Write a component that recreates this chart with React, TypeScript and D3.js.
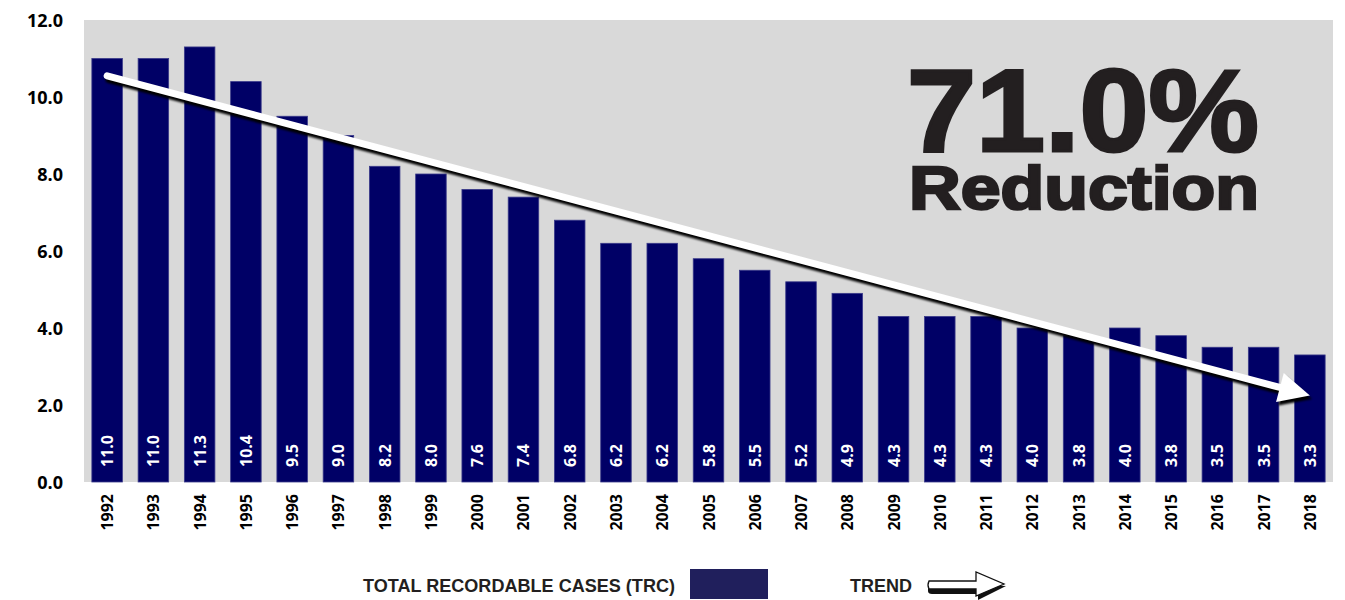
import { useEffect, useRef } from "react";
import * as d3 from "d3";

// chart data
const years = [
  "1992", "1993", "1994", "1995", "1996", "1997", "1998", "1999", "2000",
  "2001", "2002", "2003", "2004", "2005", "2006", "2007", "2008", "2009",
  "2010", "2011", "2012", "2013", "2014", "2015", "2016", "2017", "2018",
];
const trcValues = [
  11.0, 11.0, 11.3, 10.4, 9.5, 9.0, 8.2, 8.0, 7.6, 7.4, 6.8, 6.2, 6.2, 5.8,
  5.5, 5.2, 4.9, 4.3, 4.3, 4.3, 4.0, 3.8, 4.0, 3.8, 3.5, 3.5, 3.3,
];
const yTicks = [0, 2, 4, 6, 8, 10, 12];
// trend arrow: start / end (year, value)
const trendStart = { year: "1992", value: 10.55 };
const trendEnd = { year: "2018", value: 2.25 };
const headline = "71.0%";
const subline = "Reduction";
const legendBarLabel = "TOTAL RECORDABLE CASES (TRC)";
const legendTrendLabel = "TREND";

function App() {
  const svgRef = useRef<SVGSVGElement>(null);

  useEffect(() => {
    if (!svgRef.current) return;
    const svg = d3.select(svgRef.current);
    svg.selectAll("*").remove();

    const left = 84;
    const right = 1333;
    const top = 20;
    const bottom = 482;

    const x = d3
      .scaleBand()
      .domain(years)
      .range([left, right])
      .paddingInner(0.34)
      .paddingOuter(0.17);
    const y = d3.scaleLinear().domain([0, 12]).range([bottom, top]);

    const defs = svg.append("defs");
    const f = defs
      .append("filter")
      .attr("id", "shadow")
      .attr("x", "-10%")
      .attr("y", "-10%")
      .attr("width", "120%")
      .attr("height", "140%");
    f.append("feGaussianBlur").attr("stdDeviation", 1.3);

    // plot background
    svg
      .append("rect")
      .attr("x", left)
      .attr("y", top)
      .attr("width", right - left)
      .attr("height", bottom - top)
      .style("fill", "#d9d9d9");

    // bars
    svg
      .selectAll(".bar")
      .data(trcValues)
      .enter()
      .append("rect")
      .attr("class", "bar")
      .attr("x", (_, i) => x(years[i])!)
      .attr("y", (d) => y(d))
      .attr("width", x.bandwidth())
      .attr("height", (d) => bottom - y(d))
      .style("fill", "#000066")
      .style("stroke", "#3a3a8a")
      .style("stroke-width", 0.8);

    // value labels inside bars
    svg
      .selectAll(".val")
      .data(trcValues)
      .enter()
      .append("text")
      .attr("class", "val")
      .attr(
        "transform",
        (_, i) => `translate(${x(years[i])! + x.bandwidth() / 2 + 6}, 467) rotate(-90)`
      )
      .style("font-family", "'Open Sans', sans-serif")
      .style("font-weight", "700")
      .style("font-size", "16px")
      .style("fill", "#ffffff")
      .text((d) => d.toFixed(1));

    // y axis labels
    svg
      .selectAll(".ytick")
      .data(yTicks)
      .enter()
      .append("text")
      .attr("class", "ytick")
      .attr("x", 63)
      .attr("y", (d) => y(d) + 6.5)
      .attr("text-anchor", "end")
      .style("font-family", "'Open Sans', sans-serif")
      .style("font-weight", "700")
      .style("font-size", "18px")
      .style("fill", "#000")
      .text((d) => d.toFixed(1));

    // x axis labels
    svg
      .selectAll(".xtick")
      .data(years)
      .enter()
      .append("text")
      .attr("class", "xtick")
      .attr(
        "transform",
        (d) => `translate(${x(d)! + x.bandwidth() / 2 + 6}, 494) rotate(-90)`
      )
      .attr("text-anchor", "end")
      .style("font-family", "'Open Sans', sans-serif")
      .style("font-weight", "700")
      .style("font-size", "16px")
      .style("fill", "#000")
      .text((d) => d);

    // trend arrow
    const x1 = x(trendStart.year)! + x.bandwidth() / 2;
    const y1 = y(trendStart.value);
    const x2 = x(trendEnd.year)! + x.bandwidth() / 2;
    const y2 = y(trendEnd.value);
    const ang = Math.atan2(y2 - y1, x2 - x1);
    const headLen = 31;
    const headHalf = 15;
    const bx = x2 - headLen * Math.cos(ang);
    const by = y2 - headLen * Math.sin(ang);
    const nx = -Math.sin(ang);
    const ny = Math.cos(ang);
    const headPts: [number, number][] = [
      [x2, y2],
      [bx + nx * headHalf, by + ny * headHalf],
      [bx - nx * headHalf, by - ny * headHalf],
    ];
    const shaftEndX = bx + 4 * Math.cos(ang);
    const shaftEndY = by + 4 * Math.sin(ang);

    const arrow = svg.append("g");
    const shadow = arrow
      .append("g")
      .attr("transform", "translate(2,3.5)")
      .attr("filter", "url(#shadow)");
    shadow
      .append("line")
      .attr("x1", x1)
      .attr("y1", y1)
      .attr("x2", shaftEndX)
      .attr("y2", shaftEndY)
      .style("stroke", "#000")
      .style("stroke-width", 7.5)
      .style("stroke-linecap", "round");
    shadow
      .append("polygon")
      .attr("points", headPts.map((p) => p.join(",")).join(" "))
      .style("fill", "#000");

    arrow
      .append("line")
      .attr("x1", x1)
      .attr("y1", y1)
      .attr("x2", shaftEndX)
      .attr("y2", shaftEndY)
      .style("stroke", "#fff")
      .style("stroke-width", 7)
      .style("stroke-linecap", "round");
    arrow
      .append("polygon")
      .attr("points", headPts.map((p) => p.join(",")).join(" "))
      .style("fill", "#fff");

    // headline block (one text, two lines)
    const head = svg
      .append("text")
      .style("font-family", "'Liberation Sans', Arial, sans-serif")
      .style("font-weight", "900")
      .style("fill", "#231f20")
      .style("stroke", "#231f20");
    head
      .append("tspan")
      .attr("x", 907)
      .attr("y", 151)
      .attr("textLength", 352)
      .attr("lengthAdjust", "spacingAndGlyphs")
      .style("font-size", "116px")
      .style("stroke-width", 3)
      .text(headline);
    head
      .append("tspan")
      .attr("x", 909)
      .attr("y", 209)
      .attr("textLength", 350)
      .attr("lengthAdjust", "spacingAndGlyphs")
      .style("font-size", "62px")
      .style("stroke-width", 2.5)
      .text(subline);

    // legend
    svg
      .append("text")
      .attr("x", 363)
      .attr("y", 592)
      .attr("textLength", 312)
      .attr("lengthAdjust", "spacingAndGlyphs")
      .style("font-family", "'Liberation Sans Narrow', 'Liberation Sans', sans-serif")
      .style("font-weight", "700")
      .style("font-size", "19px")
      .style("fill", "#231f20")
      .text(legendBarLabel);
    svg
      .append("rect")
      .attr("x", 690)
      .attr("y", 569)
      .attr("width", 78)
      .attr("height", 30)
      .style("fill", "#201f5c");
    svg
      .append("text")
      .attr("x", 850)
      .attr("y", 592)
      .attr("textLength", 62)
      .attr("lengthAdjust", "spacingAndGlyphs")
      .style("font-family", "'Liberation Sans Narrow', 'Liberation Sans', sans-serif")
      .style("font-weight", "700")
      .style("font-size", "19px")
      .style("fill", "#231f20")
      .text(legendTrendLabel);

    // legend arrow icon
    const la = svg.append("g").attr("transform", "translate(926,569)");
    la.append("path")
      .attr("d", "M2,14 L2,22 Q2,25 6,25 L52,25 L52,31 L80,17 Z")
      .style("fill", "#111");
    la.append("path")
      .attr("d", "M3,12 L50,12 L50,3 L78,15 L50,27 L50,20 L3,20 Q1,16 3,12 Z")
      .style("fill", "#fff")
      .style("stroke", "#111")
      .style("stroke-width", 1.3);
  }, []);

  return (
    <svg
      ref={svgRef}
      width={1345}
      height={600}
      style={{ position: "absolute", left: 0, top: 0, background: "#fff" }}
    />
  );
}

export default App;
